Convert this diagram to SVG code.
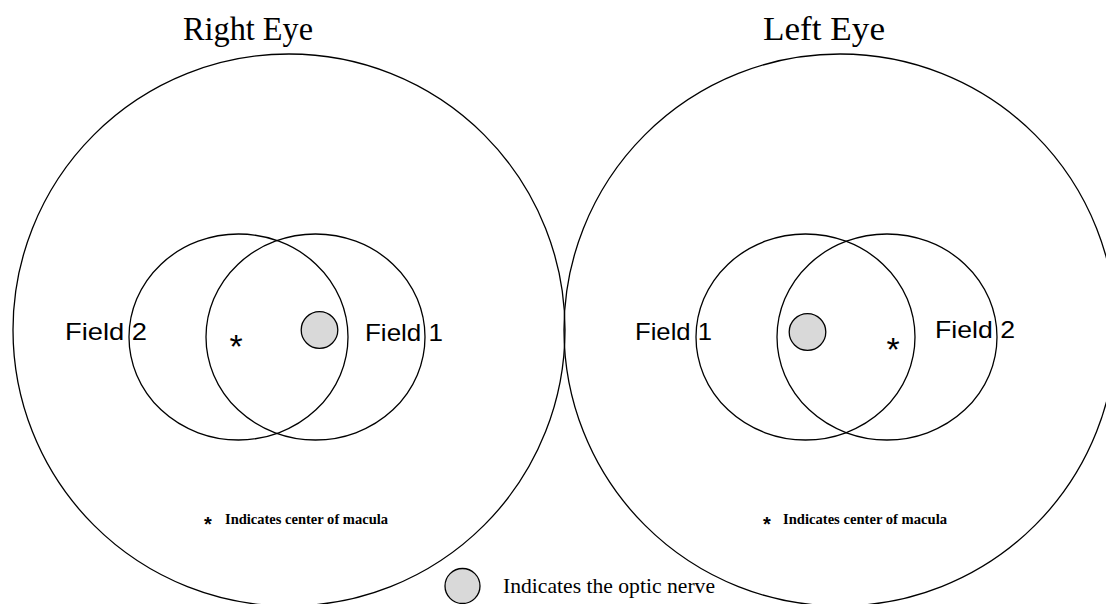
<svg xmlns="http://www.w3.org/2000/svg" width="1106" height="604" viewBox="0 0 1106 604">
<style>
.ln{fill:none;stroke:#000;stroke-width:1.3}
.disc{fill:#d9d9d9;stroke:#000;stroke-width:1.3}
.title{font-family:"Liberation Serif",serif;font-size:33px;fill:#000}
.fld{font-family:"Liberation Sans",sans-serif;font-size:24px;fill:#000}
.note{font-family:"Liberation Serif",serif;font-size:15px;font-weight:bold;fill:#000}
.ast{font-family:"Liberation Sans",sans-serif;font-size:34px;fill:#000}
.nast{font-family:"Liberation Sans",sans-serif;font-size:20px;font-weight:bold;fill:#000}
.leg{font-family:"Liberation Serif",serif;font-size:21.5px;fill:#000}
</style>
<rect width="1106" height="604" fill="#fff"/>
<g id="right-eye">
<circle class="ln" cx="289" cy="330" r="276"/>
<text class="title" x="183" y="40" textLength="130" lengthAdjust="spacingAndGlyphs">Right Eye</text>
</g>
<g id="right-field2">
<ellipse class="ln" cx="238.5" cy="337" rx="109.5" ry="103"/>
<text class="fld" x="65" y="340" textLength="82" lengthAdjust="spacingAndGlyphs">Field 2</text>
</g>
<g id="right-field1">
<ellipse class="ln" cx="315.5" cy="337" rx="109.5" ry="103"/>
<text class="fld" x="365" y="341" textLength="78" lengthAdjust="spacingAndGlyphs">Field 1</text>
</g>
<g id="right-optic-nerve">
<circle class="disc" cx="319.5" cy="330" r="18.3"/>
</g>
<g id="right-macula">
<text class="ast" x="236" y="358" text-anchor="middle">*</text>
</g>
<g id="right-note">
<text class="nast" x="208" y="531" text-anchor="middle">*</text>
<text class="note" x="225" y="524" textLength="163" lengthAdjust="spacingAndGlyphs">Indicates center of macula</text>
</g>
<g id="left-eye">
<circle class="ln" cx="840" cy="330" r="276"/>
<text class="title" x="763" y="40" textLength="122" lengthAdjust="spacingAndGlyphs">Left Eye</text>
</g>
<g id="left-field1">
<ellipse class="ln" cx="805.5" cy="337" rx="109.5" ry="103"/>
<text class="fld" x="635" y="340" textLength="77" lengthAdjust="spacingAndGlyphs">Field 1</text>
</g>
<g id="left-field2">
<ellipse class="ln" cx="887" cy="337" rx="110" ry="103"/>
<text class="fld" x="935" y="338" textLength="80" lengthAdjust="spacingAndGlyphs">Field 2</text>
</g>
<g id="left-optic-nerve">
<circle class="disc" cx="807.5" cy="332" r="18.3"/>
</g>
<g id="left-macula">
<text class="ast" x="893" y="361" text-anchor="middle">*</text>
</g>
<g id="left-note">
<text class="nast" x="767" y="531" text-anchor="middle">*</text>
<text class="note" x="783" y="524" textLength="164" lengthAdjust="spacingAndGlyphs">Indicates center of macula</text>
</g>
<g id="legend">
<circle class="disc" cx="462.5" cy="586" r="17.5"/>
<text class="leg" x="503" y="593" textLength="212" lengthAdjust="spacingAndGlyphs">Indicates the optic nerve</text>
</g>
<g id="connectors"></g>
</svg>
